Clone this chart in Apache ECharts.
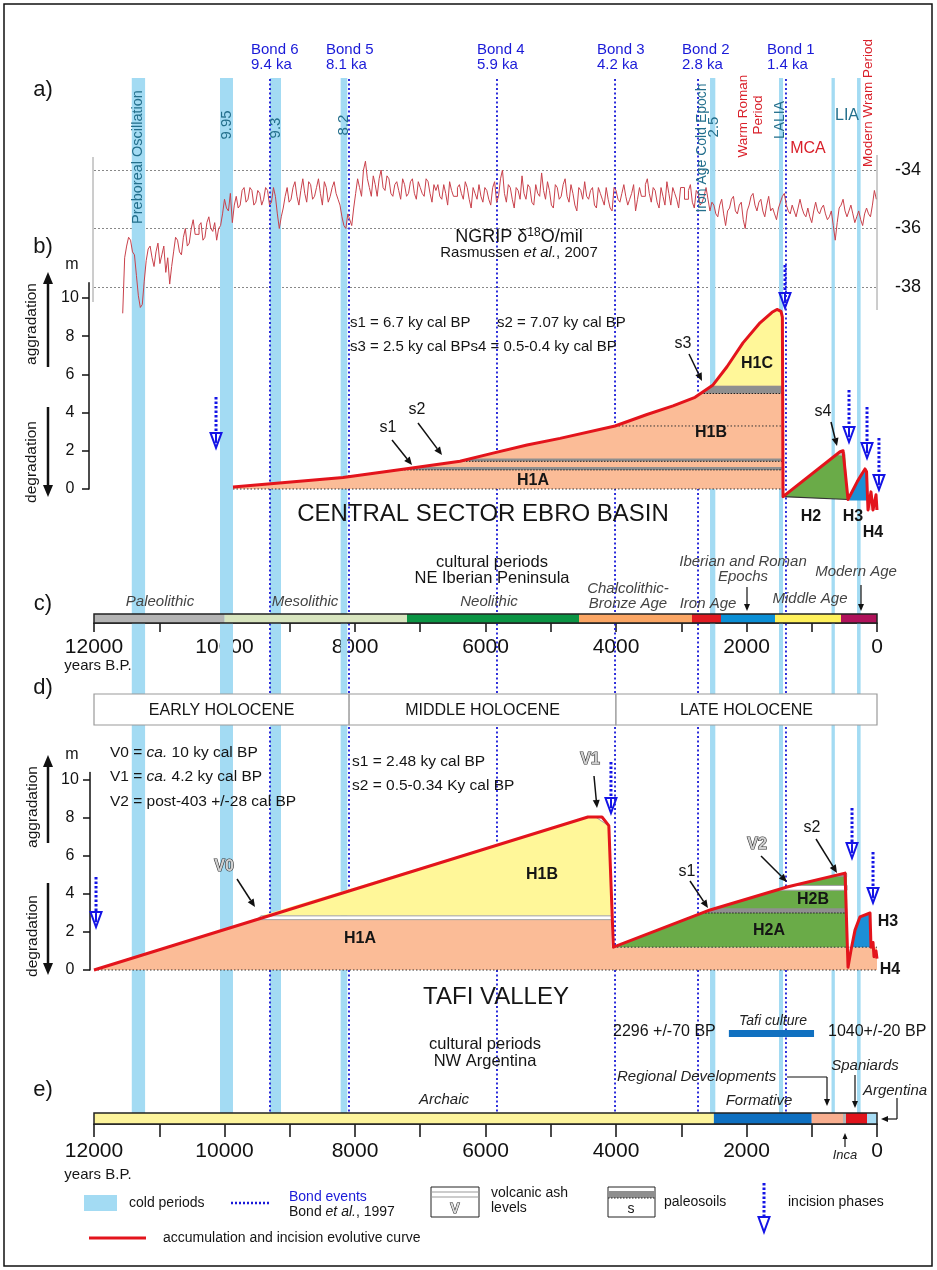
<!DOCTYPE html>
<html><head><meta charset="utf-8">
<script src="https://cdn.jsdelivr.net/npm/echarts@6/dist/echarts.min.js"></script>
<style>html,body{margin:0;padding:0;background:#fff}#c{width:937px;height:1270px}</style>
</head><body><div id="c"></div>
<script>
// ---------------- DATA ----------------
var yearMin = 0, yearMax = 12000;
var coldPeriods = [[11421,11217],[10069,9870],[9303,9134],[8220,8118],[2559,2478],[1502,1440],[697,646],[306,251]];
var bondYears = [9303, 8092, 5824, 4015, 2743, 1395];
var bondNames = ['Bond 6','Bond 5','Bond 4','Bond 3','Bond 2','Bond 1'];
var bondAges = ['9.4 ka','8.1 ka','5.9 ka','4.2 ka','2.8 ka','1.4 ka'];

// NGRIP d18O, read every 30 years: A at 11560-60i, B at 11530-60i
var ngripStartYear = 11560, ngripStep = 60;
var ngripValuesA = [
 -38.9,-36.6,-36.4,-36.9,-38.3,-38.6,-37.1,
 -36.6,-37.3,-36.5,-36.9,-37.5,-37.9,-36.8,-36.4,-36.9,-36.0,-36.5,-35.7,-36.2,-35.8,-36.3,-35.6,-36.1,-36.4,-35.9,
 -35.0,-35.4,-35.8,
 -34.9,-35.2,-34.6,-35.0,-34.7,-35.1,-34.8,-35.0,-34.7,-35.1,-34.9,-36.0,-35.3,-34.6,-35.0,-34.4,-35.2,-34.3,-35.1,-34.5,-34.9,-34.3,-35.2,-34.6,-34.9,-34.4,-35.0,
 -35.6,-36.0,-35.7,-35.3,
 -34.3,-34.9,-33.7,-34.6,-34.2,-34.9,-34.0,-34.7,-34.3,-34.9,-34.4,-35.0,-34.5,-34.8,-34.3,-35.0,-34.6,-34.9,-34.4,-35.1,-34.7,-34.9,-34.5,-35.2,-34.7,-34.9,-34.5,-35.0,-34.6,-35.3,-34.8,-34.5,-35.1,
 -34.7,-35.2,-34.4,-34.9,-34.0,-35.1,-34.6,-35.3,-34.7,-34.2,-35.0,-34.6,-35.2,-34.8,-34.1,-35.0,-34.7,-35.3,-34.6,-34.9,-34.3,-35.1,-34.8,-35.4,-34.7,-34.4,-35.0,-34.6,-35.3,-34.8,-35.2,-35.0,-35.4,-34.7,-35.1,-34.5,-35.2,-34.8,-35.4,-34.6,-34.9,-34.3,-35.1,-34.7,-35.3,-34.9,-34.4,-35.2,-34.8,-35.3,-34.6,-35.0,-34.5,-35.3,-34.8,-35.1,-34.6,
 -35.4,-35.2,-35.6,-35.0,-35.9,-35.3,-34.9,-35.5,-35.1,-36.0,-35.2,-34.8,-35.4,-35.0,-35.6,-34.9,-35.3,-35.7,-35.1,-34.8,-35.4,-35.2,-35.6,-35.0,-35.5,-35.3,-35.8,-35.1,-35.5,-35.2,-35.7,-35.4,-36.4,-35.3,-35.0,-35.6,-35.2,-35.8,-35.4,-35.9,-35.3,-35.6,-34.7
];
var ngripValuesB = [
 -37.0,-36.3,-36.8,-37.6,-38.7,-37.8,-36.7,
 -37.0,-36.8,-37.2,-36.6,-37.0,-37.3,-36.3,-36.8,-36.3,-36.6,-36.0,-36.2,-35.9,-36.4,-35.8,-36.0,-35.8,-36.0,-35.5,
 -35.3,-34.8,-35.2,
 -35.3,-34.7,-35.1,-34.6,-35.2,-34.7,-35.2,-34.6,-35.2,-34.6,-35.5,-35.6,-34.9,-35.1,-34.6,-34.9,-34.7,-34.8,-34.4,-35.0,-34.6,-34.8,-34.4,-35.1,-34.6,-34.8,-35.2,
 -35.9,-35.5,-35.9,-34.8,
 -34.6,-34.0,-34.3,-34.9,-34.5,-34.3,-34.6,-34.2,-34.8,-34.5,-34.7,-34.3,-34.9,-34.4,-34.8,-34.4,-34.8,-34.3,-34.8,-34.5,-34.5,-35.0,-34.8,-34.4,-34.9,-34.6,-34.8,-34.4,-35.0,-34.6,-35.0,-34.9,-34.6,
 -35.0,-34.6,-35.1,-34.3,-34.8,-34.5,-35.0,-34.6,-35.0,-34.8,-34.5,-35.1,-34.5,-34.9,-34.7,-34.4,-35.2,-34.5,-35.0,-34.5,-34.9,-34.5,-35.2,-34.6,-35.0,-34.9,-34.7,-35.2,-34.6,-35.0,-34.6,-35.3,-34.6,-35.0,-34.8,-34.9,-35.0,-34.5,-35.0,-34.9,-34.5,-34.8,-34.6,-35.1,-34.6,-35.2,-34.8,-34.6,-35.0,-34.6,-35.0,-34.7,-35.1,-34.7,-35.2,-34.9,-35.0,
 -35.1,-35.5,-35.2,-35.5,-35.4,-35.0,-35.4,-35.2,-35.7,-35.4,-34.9,-35.2,-35.1,-35.4,-35.2,-35.4,-35.5,-35.3,-34.9,-35.2,-35.5,-35.4,-35.3,-35.3,-35.6,-35.6,-35.4,-35.4,-35.3,-35.5,-35.6,-35.9,-35.8,-35.2,-35.4,-35.4,-35.5,-35.6,-35.7,-35.5,-35.5,-35.2,-35.0
];

// Ebro basin (years BP, metres)
var ebroCurve = [[9870,0.1],[8184,0.6],[7126,1.1],[6391,1.45],[5885,1.88],[5364,2.3],[4858,2.65],[4015,3.3],[3525,3.9],[3126,4.35],[2789,4.8],[2513,5.45],[2299,6.4],[2054,7.65],[1793,8.7],[1609,9.25],[1533,9.4],[1471,9.3],[1450,9.0],[1440,-0.4],[567,1.95],[520,2.0],[490,1.9],[444,-0.55],[300,0.4],[230,0.8],[184,1.05],[160,0.9],[138,-1.1],[92,-0.15],[61,-1.1],[15,-0.3],[0,-1.1]];
var ebroH1 = [[9870,0.1],[8184,0.6],[7126,1.1],[6391,1.45],[5885,1.88],[5364,2.3],[4858,2.65],[4015,3.3],[3525,3.9],[3126,4.35],[2789,4.8],[2513,5.45],[2299,6.4],[2054,7.65],[1793,8.7],[1609,9.25],[1533,9.4],[1471,9.3],[1450,9.0],[1450,0],[9870,0]];
var ebroH1C = [[2513,5.45],[2299,6.4],[2054,7.65],[1793,8.7],[1609,9.25],[1533,9.4],[1471,9.3],[1450,9.0],[1450,5.4],[2530,5.4]];
var ebroS3 = [[2704,5.0],[2530,5.4],[1450,5.4],[1450,5.0]];
var ebroS1 = [[7338,1.0],[7021,1.15],[1450,1.15],[1450,1.0]];
var ebroS2 = [[6391,1.45],[6214,1.6],[1450,1.6],[1450,1.45]];
var ebroDot1 = [[4015,3.3],[1450,3.3]];
var ebroDot0 = [[9870,0],[1450,0]];
var ebroH2 = [[1440,-0.4],[567,1.95],[520,2.0],[490,1.9],[444,-0.55]];
var ebroS4 = [[610,1.78],[540,1.98],[490,1.9],[482,1.72]];
var ebroH2Base = [[1440,-0.4],[444,-0.55]];
var ebroH3 = [[430,-0.6],[300,0.4],[230,0.8],[184,1.05],[160,0.9],[148,-0.6]];
var ebroH4 = [[138,-0.55],[0,-0.55],[0,-1.1],[138,-1.1]];
var ebroIncisions = [[10130,4.82,2.15],[1410,11.73,9.48],[429,5.18,2.46],[153,4.29,1.62],[-30,2.67,-0.05]];

// Tafi valley
var tafiCurve = [[12000,0],[4430,8.05],[4215,8.05],[4110,7.6],[4040,1.2],[2559,3.16],[1379,4.37],[490,5.1],[460,5.1],[444,0.15],[398,1.05],[337,2.1],[260,2.8],[107,3.0],[92,1.2],[61,1.45],[46,0.7],[15,1.0],[0,0.6]];
var tafiH1A = [[12000,0],[9508,2.65],[4070,2.65],[4070,1.2],[452,1.2],[444,0.15],[404,1.2],[0,1.2],[0,0]];
var tafiV0 = [[9508,2.65],[9440,2.85],[4062,2.85],[4068,2.65]];
var tafiH1B = [[9440,2.85],[4430,8.05],[4215,8.05],[4110,7.6],[4062,2.85]];
var tafiV1 = [[4300,8.02],[4215,8.02],[4125,7.62]];
var tafiH2 = [[4040,1.2],[2559,3.16],[1379,4.37],[490,5.1],[460,5.1],[455,1.2]];
var tafiS1 = [[2680,3.0],[2471,3.25],[458,3.25],[458,3.0]];
var tafiV2 = [[1545,4.2],[1282,4.45],[458,4.45],[458,4.2]];
var tafiS2 = [[640,4.9],[490,5.06],[458,5.06],[458,4.9]];
var tafiH3 = [[398,1.2],[337,2.1],[260,2.8],[107,3.0],[92,1.2]];
var tafiDot12 = [[4040,1.2],[0,1.2]];
var tafiDot0 = [[12000,0],[0,0]];
var tafiIncisions = [[11969,4.89,2.26],[4077,10.95,8.26],[383,8.53,5.89],[61,6.21,3.53]];

// cultural periods
var iberiaBounds = [12000,10000,7203,4567,2835,2391,1563,552,0];
var iberiaColors = ['#b4b4b4','#d8e5bf','#0b9444','#fba664','#e01a22','#0b8fd6','#fff15c','#b0125b'];
var argBounds = [12000,2500,1000,521,475,153,0];
var argColors = ['#fdf49c','#0e6fc0','#f8ae8f','#b5b5b5','#e0141c','#a7dcf4'];
var tafiCulture = [[2270,965]];
var holoBounds = [12000,8090,4000,0];
var holoNames = ['EARLY HOLOCENE','MIDDLE HOLOCENE','LATE HOLOCENE'];

// ---------------- BUILD ----------------
var FONT = '"Liberation Sans", Arial, Helvetica, sans-serif';
function fnt(size,o){o=o||{};return (o.italic?'italic ':'')+(o.bold?'bold ':'')+size+'px '+FONT;}
var ngripData = [];
ngripValuesA.forEach(function(v,i){
  ngripData.push([ngripStartYear - i*ngripStep, v]);
  if (i < ngripValuesB.length) ngripData.push([ngripStartYear - ngripStep/2 - i*ngripStep, ngripValuesB[i]]);
});
function segs(b){var r=[];for(var i=0;i<b.length-1;i++)r.push([b[i],b[i+1]]);return r;}

var L = 94, R = 60;
var grids = [
 {left:L,right:R,top:78,height:1035},      //0 overlay
 {left:L,right:R,top:170,height:117},      //1 NGRIP
 {left:L,right:R,top:282.72,height:206.28},//2 Ebro
 {left:L,right:R,top:614,height:9},        //3 Iberia bar
 {left:L,right:R,top:694,height:31},       //4 holocene
 {left:L,right:R,top:772.4,height:197.6},  //5 Tafi
 {left:L,right:R,top:1113,height:11},      //6 Argentina bar
 {left:L,right:R,top:1030,height:7}        //7 Tafi culture
];
var xAxes = grids.map(function(g,i){
  var ax = {gridIndex:i,type:'value',min:yearMin,max:yearMax,inverse:true,show:false,splitLine:{show:false}};
  if(i===3||i===6){
    ax.show=true; ax.interval=1000; ax.position='bottom';
    ax.axisLine={show:true,onZero:false,lineStyle:{color:'#111',width:1.5}};
    ax.axisTick={show:true,length:(i===3?9:13),lineStyle:{color:'#111',width:1.5}};
    ax.axisLabel={margin:(i===3?14:17),fontSize:21,color:'#111',fontFamily:FONT,formatter:function(v){return v%2000===0?String(v):'';}};
  }
  return ax;
});
function mAxis(i,max,offset,margin){
  return {gridIndex:i,type:'value',min:0,max:max,interval:2,position:'left',offset:offset,
    axisLine:{show:true,onZero:false,lineStyle:{color:'#111',width:1.5}},
    axisTick:{show:true,length:7,lineStyle:{color:'#111',width:1.5},customValues:[0,2,4,6,8,10]},
    axisLabel:{margin:margin,align:'center',fontSize:16,color:'#111',fontFamily:FONT,customValues:[0,2,4,6,8,10],formatter:function(v){return (v%2===0)?String(v):'';}},
    splitLine:{show:false}};
}
var yAxes = [
 {gridIndex:0,type:'value',min:0,max:1,show:false},
 {gridIndex:1,type:'value',min:-38,max:-34,interval:2,position:'right',axisLine:{show:false,onZero:false},axisTick:{show:false},
   axisLabel:{margin:18,fontSize:18,color:'#111',fontFamily:FONT},splitLine:{show:true,lineStyle:{type:[2,2],color:'#888',width:1}}},
 mAxis(2,10.8,5,19),
 {gridIndex:3,type:'value',min:0,max:1,show:false},
 {gridIndex:4,type:'value',min:0,max:1,show:false},
 mAxis(5,10.4,4,20),
 {gridIndex:6,type:'value',min:0,max:1,show:false},
 {gridIndex:7,type:'value',min:0,max:1,show:false}
];

function polySeries(g,pts,style,z){
  return {type:'custom',xAxisIndex:g,yAxisIndex:g,data:pts,z:z||3,silent:true,clip:false,
    renderItem:function(params,api){ if(params.dataIndex!==0) return null;
      return {type:'polygon',shape:{points:pts.map(function(d){return api.coord(d);})},style:style}; }};
}
function lineSeries(g,pts,style,z){
  return {type:'line',xAxisIndex:g,yAxisIndex:g,data:pts,symbol:'none',showSymbol:false,clip:false,silent:true,z:z||4,
    lineStyle:style};
}
function bandSeries(g,rows,colors,z,stroke){
  return {type:'custom',xAxisIndex:g,yAxisIndex:g,data:rows,z:z||5,silent:true,
    renderItem:function(params,api){
      var x0=api.coord([api.value(0),0])[0], x1=api.coord([api.value(1),0])[0], cs=params.coordSys;
      return {type:'rect',shape:{x:Math.min(x0,x1),y:cs.y,width:Math.abs(x1-x0),height:cs.height},
        style:{fill:colors?colors[params.dataIndex % colors.length]:'none',stroke:stroke||null,lineWidth:stroke?1.5:0}};
    }};
}
function incisionSeries(g,rows){
  return {type:'custom',xAxisIndex:g,yAxisIndex:g,data:rows,z:8,silent:true,clip:false,
    renderItem:function(params,api){
      var t=api.coord([api.value(0),api.value(1)]), b=api.coord([api.value(0),api.value(2)]), x=t[0], by=b[1];
      return {type:'group',children:[
        {type:'line',shape:{x1:x,y1:t[1],x2:x,y2:by-15},style:{stroke:'#1414e6',lineWidth:3,lineDash:[2.5,2]}},
        {type:'polygon',shape:{points:[[x-5.5,by-15],[x+5.5,by-15],[x,by]]},style:{fill:'none',stroke:'#1414e6',lineWidth:2}},
        {type:'line',shape:{x1:x,y1:by-14,x2:x,y2:by-5},style:{stroke:'#1414e6',lineWidth:2}}
      ]};
    }};
}

var RED = '#e3141c', SALMON = '#fbbc97', YEL = '#fff799', GREEN = '#6aab48', BLUE = '#1c8fd6', GREY = '#8f8f8f';
var series = [
  bandSeries(0, coldPeriods, ['#a3dbf3'], 1),
  {type:'custom',xAxisIndex:0,yAxisIndex:0,data:bondYears.map(function(y){return [y];}),z:2,silent:true,
   renderItem:function(params,api){var x=api.coord([api.value(0),0])[0], cs=params.coordSys;
     return {type:'line',shape:{x1:x,y1:cs.y+1,x2:x,y2:cs.y+cs.height},style:{stroke:'#1a1ad8',lineWidth:1.8,lineDash:[2,2.5]}};}},
  {type:'line',xAxisIndex:1,yAxisIndex:1,data:ngripData,step:'end',symbol:'none',showSymbol:false,clip:false,silent:true,z:3,
   lineStyle:{color:'#c9414b',width:1}},
  polySeries(2, ebroH1, {fill:SALMON}),
  polySeries(2, ebroH1C, {fill:YEL}),
  polySeries(2, ebroS3, {fill:GREY}),
  polySeries(2, ebroS1, {fill:GREY}),
  polySeries(2, ebroS2, {fill:GREY}),
  polySeries(2, ebroH2, {fill:GREEN}),
  polySeries(2, ebroS4, {fill:'#bdbdbd'}),
  polySeries(2, ebroH3, {fill:BLUE}),
  polySeries(2, ebroH4, {fill:'#f5c4c4'}),
  lineSeries(2, ebroDot1, {color:'#333',width:1,type:[1.5,2]}),
  lineSeries(2, ebroDot0, {color:'#333',width:1,type:[1.5,2]}),
  lineSeries(2, [[7338,1.0],[1450,1.0]], {color:'#222',width:1,type:[1.5,1.5]}),
  lineSeries(2, [[6391,1.45],[1450,1.45]], {color:'#222',width:1,type:[1.5,1.5]}),
  lineSeries(2, [[2704,5.0],[1450,5.0]], {color:'#222',width:1,type:[1.5,1.5]}),
  lineSeries(2, ebroH2Base, {color:'#333',width:1.2}),
  lineSeries(2, ebroCurve, {color:RED,width:3,join:'round'}, 6),
  incisionSeries(2, ebroIncisions),
  bandSeries(3, segs(iberiaBounds), iberiaColors, 5),
  bandSeries(3, [[12000,0]], null, 6, '#222'),
  {type:'custom',xAxisIndex:4,yAxisIndex:4,data:segs(holoBounds),z:6,silent:true,
   renderItem:function(params,api){var x0=api.coord([api.value(0),0])[0], x1=api.coord([api.value(1),0])[0], cs=params.coordSys;
     return {type:'group',children:[
       {type:'rect',shape:{x:x0,y:cs.y,width:x1-x0,height:cs.height},style:{fill:'#fff',stroke:'#9a9a9a',lineWidth:1.2}},
       {type:'text',style:{text:holoNames[params.dataIndex],x:(x0+x1)/2,y:cs.y+cs.height/2+1,textAlign:'center',align:'center',textVerticalAlign:'middle',verticalAlign:'middle',font:fnt(16),fill:'#151515'}}]};}},
  polySeries(5, tafiH1A, {fill:SALMON}),
  polySeries(5, tafiH1B, {fill:YEL}),
  polySeries(5, tafiV0, {fill:'#fff',stroke:'#a0a0a0',lineWidth:1}),
  polySeries(5, tafiV1, {fill:'#fff',stroke:'#a0a0a0',lineWidth:1}),
  polySeries(5, tafiH2, {fill:GREEN}),
  polySeries(5, tafiS1, {fill:GREY}),
  polySeries(5, tafiV2, {fill:'#fff',stroke:'#a0a0a0',lineWidth:1}),
  polySeries(5, tafiS2, {fill:GREY}),
  polySeries(5, tafiH3, {fill:BLUE}),
  lineSeries(5, tafiDot12, {color:'#333',width:1,type:[1.5,2]}),
  lineSeries(5, tafiDot0, {color:'#333',width:1,type:[1.5,2]}),
  lineSeries(5, [[2680,3.0],[458,3.0]], {color:'#222',width:1,type:[1.5,1.5]}),
  lineSeries(5, tafiCurve, {color:RED,width:3,join:'round'}, 6),
  incisionSeries(5, tafiIncisions),
  bandSeries(6, segs(argBounds), argColors, 5),
  bandSeries(6, [[12000,0]], null, 6, '#222'),
  bandSeries(7, tafiCulture, ['#1070c0'], 6)
];

// ---------------- TEXT & DECORATION ----------------
function T(x,y,text,size,o){o=o||{};
  var st={text:text,font:fnt(size,o),fill:o.color||'#151515',textAlign:o.align||'center',align:o.align||'center',textVerticalAlign:'middle',verticalAlign:'middle'};
  if(o.stroke){st.stroke=o.stroke;st.lineWidth=o.lw||1;}
  if(o.rich){st.rich=o.rich;}
  return {type:'text',x:x,y:y,rotation:o.rot||0,z:100,silent:true,style:st};
}
function LN(x1,y1,x2,y2,col,lw,dash){return {type:'line',z:100,silent:true,shape:{x1:x1,y1:y1,x2:x2,y2:y2},style:{stroke:col||'#111',lineWidth:lw||1.5,lineDash:dash||null}};}
function AR(x1,y1,x2,y2,o){o=o||{};var col=o.color||'#111',lw=o.lw||1.5,hl=o.hl||8,hw=o.hw||3.5;
  var dx=x2-x1,dy=y2-y1,l=Math.sqrt(dx*dx+dy*dy),ux=dx/l,uy=dy/l,bx=x2-ux*hl,by=y2-uy*hl;
  return [LN(x1,y1,bx,by,col,lw),{type:'polygon',z:100,silent:true,shape:{points:[[x2,y2],[bx-uy*hw,by+ux*hw],[bx+uy*hw,by-ux*hw]]},style:{fill:col}}];}
var TEAL='#236f8c', CRED='#d9202a', BOND='#1a1ad8', IT='#444';
var V = Math.PI/2;
var g = [];
function add(a){ if(Array.isArray(a)) g=g.concat(a); else g.push(a); }
add({type:'rect',z:100,silent:true,shape:{x:4,y:4,width:928,height:1262},style:{fill:'none',stroke:'#111',lineWidth:1.5}});
add(T(43,90,'a)',22)); add(T(43,247,'b)',22)); add(T(43,604,'c)',22)); add(T(43,688,'d)',22)); add(T(43,1090,'e)',22));
var bondLeft=[251,326,477,597,682,767];
bondNames.forEach(function(n,i){add(T(bondLeft[i],50,n,15,{color:BOND,align:'left'}));add(T(bondLeft[i],65,bondAges[i],15,{color:BOND,align:'left'}));});
add(T(138,157,'Preboreal Oscillation',14.5,{color:TEAL,rot:V}));
add(T(227,125,'9.95',15,{color:TEAL,rot:V}));
add(T(276,128,'9.3',15,{color:TEAL,rot:V}));
add(T(344,125,'8.2',15,{color:TEAL,rot:V}));
add(T(702,148,'Iron Age Cold Epoch',14,{color:TEAL,rot:V}));
add(T(714,127,'2.5',15,{color:TEAL,rot:V}));
add(T(743,116,'Warm Roman',13.5,{color:CRED,rot:V}));
add(T(758,115,'Period',13.5,{color:CRED,rot:V}));
add(T(780,120,'LALIA',14,{color:TEAL,rot:V}));
add(T(808,149,'MCA',16,{color:CRED}));
add(T(847,116,'LIA',16,{color:TEAL}));
add(T(868,103,'Modern Wram Period',13.5,{color:CRED,rot:V}));
add(LN(93,157,93,302,'#9a9a9a',1)); add(LN(877,155,877,310,'#9a9a9a',1));
add(T(519,237,'{a|NGRIP δ}{s|18}{a|O/mil}',18,{rich:{a:{fontSize:18,fontFamily:FONT,fill:'#151515'},s:{fontSize:12,fontFamily:FONT,fill:'#151515',padding:[0,0,9,0]}}}));
add(T(519,253,'{a|Rasmussen }{i|et al.}{a|, 2007}',15,{rich:{a:{fontSize:15,fontFamily:FONT,fill:'#151515'},i:{fontSize:15,fontFamily:FONT,fontStyle:'italic',fill:'#151515'}}}));
add(T(72,265,'m',16));
add(AR(48,367,48,272,{lw:2.5,hl:12,hw:5}));
add(AR(48,407,48,497,{lw:2.5,hl:12,hw:5}));
add(T(32,324,'aggradation',15.5,{rot:V}));
add(T(32,462,'degradation',15.5,{rot:V}));
add(T(350,323,'s1 = 6.7 ky cal BP',15,{align:'left'}));
add(T(497,323,'s2 = 7.07 ky cal BP',15,{align:'left'}));
add(T(350,347,'s3 = 2.5 ky cal BPs4 = 0.5-0.4 ky cal BP',15,{align:'left'}));
add(T(388,428,'s1',16)); add(AR(392,440,412,465));
add(T(417,410,'s2',16)); add(AR(418,423,442,455));
add(T(683,344,'s3',16)); add(AR(689,354,702,381));
add(T(823,412,'s4',16)); add(AR(831,422,837,446));
add(T(533,481,'H1A',16,{bold:true})); add(T(711,433,'H1B',16,{bold:true})); add(T(757,364,'H1C',16,{bold:true}));
add(T(811,517,'H2',16,{bold:true})); add(T(853,517,'H3',16,{bold:true})); add(T(873,533,'H4',16,{bold:true}));
add(T(483,514,'CENTRAL SECTOR EBRO BASIN',24));
add(T(492,562,'cultural periods',16.5)); add(T(492,578,'NE Iberian Peninsula',16.5));
add(T(160,602,'Paleolithic',15,{italic:true,color:IT}));
add(T(305,602,'Mesolithic',15,{italic:true,color:IT}));
add(T(489,602,'Neolithic',15,{italic:true,color:IT}));
add(T(628,589,'Chalcolithic-',15,{italic:true,color:IT})); add(T(628,604,'Bronze Age',15,{italic:true,color:IT}));
add(T(708,604,'Iron Age',15,{italic:true,color:IT}));
add(T(743,562,'Iberian and Roman',15,{italic:true,color:IT})); add(T(743,577,'Epochs',15,{italic:true,color:IT}));
add(AR(747,587,747,611,{lw:1.2,hl:7,hw:3}));
add(T(810,599,'Middle Age',15,{italic:true,color:IT}));
add(T(856,572,'Modern Age',15,{italic:true,color:IT}));
add(AR(861,585,861,611,{lw:1.2,hl:7,hw:3}));
add(T(98,666,'years B.P.',15));
add(T(72,755,'m',16));
add(AR(48,843,48,755,{lw:2.5,hl:12,hw:5}));
add(AR(48,883,48,975,{lw:2.5,hl:12,hw:5}));
add(T(33,807,'aggradation',15.5,{rot:V}));
add(T(33,936,'degradation',15.5,{rot:V}));
var richA={a:{fontSize:15.5,fontFamily:FONT,fill:'#151515'},i:{fontSize:15.5,fontFamily:FONT,fontStyle:'italic',fill:'#151515'}};
add(T(110,753,'{a|V0 = }{i|ca.}{a| 10 ky cal BP}',15.5,{align:'left',rich:richA}));
add(T(110,777,'{a|V1 = }{i|ca.}{a| 4.2 ky cal BP}',15.5,{align:'left',rich:richA}));
add(T(110,802,'V2 = post-403 +/-28 cal BP',15.5,{align:'left'}));
add(T(352,762,'s1 = 2.48 ky cal BP',15.5,{align:'left'}));
add(T(352,786,'s2 = 0.5-0.34 Ky cal BP',15.5,{align:'left'}));
var HOL={bold:true,color:'#d0d0d0',stroke:'#333',lw:1.2};
add(T(224,867,'V0',16,HOL)); add(AR(237,879,255,907));
add(T(590,760,'V1',16,HOL)); add(AR(594,776,597,808));
add(T(757,845,'V2',16,HOL)); add(AR(761,856,787,882));
add(T(687,872,'s1',16)); add(AR(690,881,708,908));
add(T(812,828,'s2',16)); add(AR(816,839,837,873));
add(T(542,875,'H1B',16,{bold:true})); add(T(360,939,'H1A',16,{bold:true}));
add(T(813,900,'H2B',16,{bold:true})); add(T(769,931,'H2A',16,{bold:true}));
add(T(888,922,'H3',16,{bold:true})); add(T(890,970,'H4',16,{bold:true}));
add(T(496,997,'TAFI VALLEY',24));
add(T(485,1044,'cultural periods',16.5)); add(T(485,1061,'NW Argentina',16.5));
add(T(613,1032,'2296 +/-70 BP',16,{align:'left'}));
add(T(773,1021,'Tafi culture',14,{italic:true,color:'#222'}));
add(T(828,1032,'1040+/-20 BP',16,{align:'left'}));
add(T(617,1077,'Regional Developments',15,{italic:true,color:'#222',align:'left'}));
add(LN(787,1077,827,1077,'#111',1.2)); add(AR(827,1077,827,1106,{lw:1.2,hl:7,hw:3}));
add(T(759,1101,'Formative',15,{italic:true,color:'#222'}));
add(T(444,1100,'Archaic',15,{italic:true,color:'#222'}));
add(T(865,1066,'Spaniards',15,{italic:true,color:'#222'})); add(AR(855,1075,855,1108,{lw:1.2,hl:7,hw:3}));
add(T(895,1091,'Argentina',15,{italic:true,color:'#222'}));
add(LN(897,1098,897,1119,'#111',1.2)); add(AR(897,1119,881,1119,{lw:1.2,hl:7,hw:3}));
add(T(845,1155,'Inca',13,{italic:true,color:'#222'})); add(AR(845,1147,845,1133,{lw:1.2,hl:6,hw:2.5}));
add(T(98,1175,'years B.P.',15));
add({type:'rect',z:100,silent:true,shape:{x:84,y:1195,width:33,height:16},style:{fill:'#a3dbf3'}});
add(T(129,1203,'cold periods',14,{align:'left'}));
add(LN(231,1203,270,1203,BOND,2.5,[2,2]));
add(T(289,1197,'Bond events',14,{align:'left',color:BOND}));
add(T(289,1212,'{a|Bond }{i|et al.}{a|, 1997}',14,{align:'left',rich:{a:{fontSize:14,fontFamily:FONT,fill:'#151515'},i:{fontSize:14,fontFamily:FONT,fontStyle:'italic',fill:'#151515'}}}));
add({type:'rect',z:100,silent:true,shape:{x:431,y:1187,width:48,height:30},style:{fill:'#fff',stroke:'#222',lineWidth:1}});
add(LN(431,1192,479,1192,'#999',1)); add(LN(431,1197,479,1197,'#999',1));
add(T(455,1209,'V',14,{bold:true,color:'#ddd',stroke:'#222',lw:1}));
add(T(491,1193,'volcanic ash',14,{align:'left'})); add(T(491,1208,'levels',14,{align:'left'}));
add({type:'rect',z:100,silent:true,shape:{x:608,y:1187,width:47,height:30},style:{fill:'#fff',stroke:'#222',lineWidth:1}});
add({type:'rect',z:100,silent:true,shape:{x:608,y:1191,width:47,height:7},style:{fill:'#8f8f8f'}});
add(LN(608,1198,655,1198,'#222',1,[1.5,1.5]));
add(T(631,1209,'s',14));
add(T(664,1202,'paleosoils',14,{align:'left'}));
add(LN(764,1183,764,1217,'#1414e6',3,[2.5,2]));
add({type:'polygon',z:100,silent:true,shape:{points:[[758.5,1217],[769.5,1217],[764,1232]]},style:{fill:'none',stroke:'#1414e6',lineWidth:2}});
add(T(788,1202,'incision phases',14,{align:'left'}));
add(LN(89,1238,146,1238,RED,3));
add(T(163,1238,'accumulation and incision evolutive curve',14,{align:'left'}));

var chart = echarts.init(document.getElementById('c'));
chart.setOption({animation:false,backgroundColor:'#fff',grid:grids,xAxis:xAxes,yAxis:yAxes,series:series,graphic:{elements:g}});
</script></body></html>
